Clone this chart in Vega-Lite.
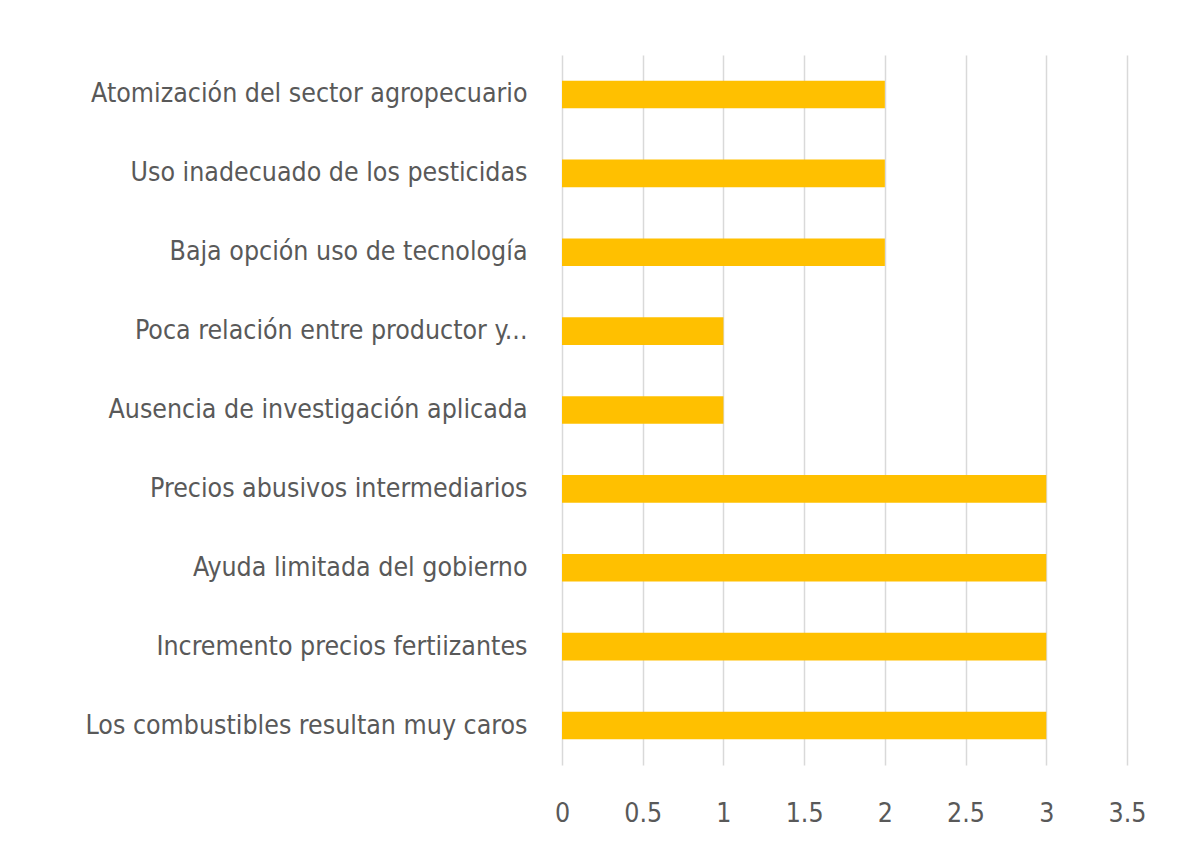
{
  "$schema": "https://vega.github.io/schema/vega-lite/v6.json",
  "width": 565,
  "height": 710,
  "autosize": {"type": "none"},
  "padding": {"left": 562, "top": 55, "right": 53, "bottom": 83},
  "background": "white",
  "data": {"values": [
    {"causa": "Atomización del sector agropecuario", "valor": 2},
    {"causa": "Uso inadecuado de los pesticidas", "valor": 2},
    {"causa": "Baja opción uso de tecnología", "valor": 2},
    {"causa": "Poca relación entre productor y...", "valor": 1},
    {"causa": "Ausencia de investigación aplicada", "valor": 1},
    {"causa": "Precios abusivos intermediarios", "valor": 3},
    {"causa": "Ayuda limitada del gobierno", "valor": 3},
    {"causa": "Incremento precios fertiizantes", "valor": 3},
    {"causa": "Los combustibles resultan muy caros", "valor": 3}
  ]},
  "mark": {"type": "bar", "color": "#FFC000"},
  "encoding": {
    "y": {
      "field": "causa", "type": "nominal", "sort": null, "title": null,
      "scale": {"paddingInner": 0.65, "paddingOuter": 0.325},
      "axis": {
        "domain": false, "ticks": false, "labelPadding": 35,
        "labelFont": "DejaVu Sans Condensed", "labelFontSize": 26.5,
        "labelColor": "#595959", "labelLimit": 600,
        "labelExpr": "indexof(datum.label, 'combustibles') >= 0 ? datum.label + '\u2007\u2007\u2007\u2007' : datum.label",
        "encode": {"labels": {"update": {"dx": {"signal": "indexof(datum.label, 'Poca') >= 0 ? 29 : indexof(datum.label, 'Ausencia') >= 0 ? 6 : 0"}}}}
      }
    },
    "x": {
      "field": "valor", "type": "quantitative", "title": null,
      "scale": {"domain": [0, 3.5], "nice": false},
      "axis": {
        "values": [0, 0.5, 1, 1.5, 2, 2.5, 3, 3.5],
        "format": "~g",
        "domain": false, "ticks": false, "grid": true,
        "gridColor": "#d9d9d9", "gridWidth": 1.5,
        "labelPadding": 35, "labelFont": "DejaVu Sans Condensed",
        "labelFontSize": 26.5, "labelColor": "#595959", "labelFlush": false
      }
    }
  },
  "config": {"view": {"stroke": null}}
}
